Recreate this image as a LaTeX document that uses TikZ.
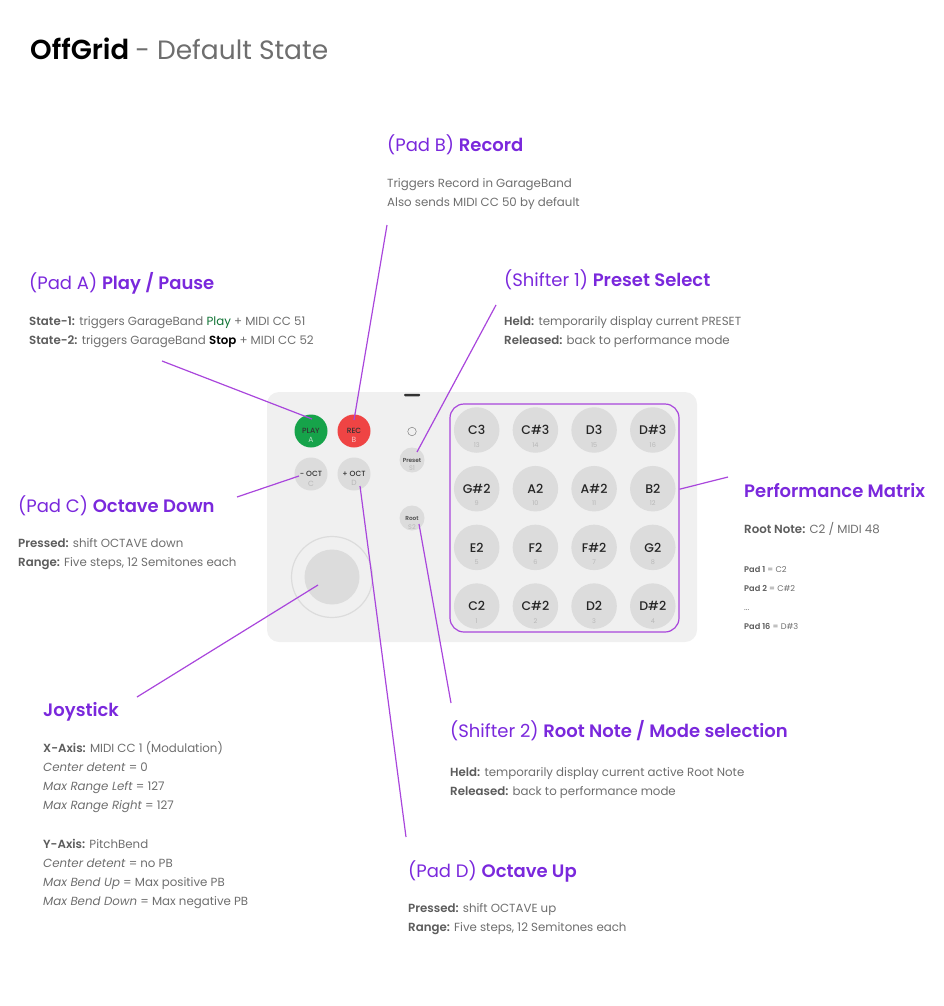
\documentclass[tikz,border=0pt]{standalone}
\usepackage{fontspec}
\setmainfont{Poppins}[BoldFont={Poppins SemiBold},BoldItalicFont={Poppins SemiBold Italic}]
\newfontfamily\medfont{Poppins Medium}
\usetikzlibrary{positioning}
\definecolor{headcol}{HTML}{7A28DC}
\definecolor{wirecol}{HTML}{A946DC}
\definecolor{bodycol}{HTML}{6E6E6E}
\definecolor{boldcol}{HTML}{5C5C5C}
\definecolor{shellcol}{HTML}{F0F0F0}
\definecolor{padcol}{HTML}{DCDCDC}
\definecolor{numcol}{HTML}{B8B8B8}
\definecolor{playcol}{HTML}{16A34A}
\definecolor{reccol}{HTML}{EF4444}
\newcommand{\bb}[1]{\textbf{\textcolor{boldcol}{#1}}}
\begin{document}
\begin{tikzpicture}[
  x=1pt, y=-1pt,
  head/.style={anchor=base west, inner sep=0pt, text=headcol, font=\fontsize{18}{20}\selectfont},
  bodytext/.style={anchor=base west, inner sep=0pt, text=bodycol, align=left, font=\fontsize{11.8}{19}\selectfont},
  smalltext/.style={anchor=base west, inner sep=0pt, text=bodycol, font=\fontsize{8.2}{10}\selectfont},
  notepad/.style={circle, fill=padcol, minimum size=45.5pt, inner sep=0pt, text=black!85,
    font=\medfont\fontsize{12.5}{14}\selectfont, node distance=58.7pt,
    label={[numcol, font=\fontsize{6.5}{7}\selectfont, label distance=-14pt]-90:#1}},
  smallpad/.style={circle, fill=padcol, minimum size=33pt, inner sep=0pt, text=black!80,
    font=\medfont\fontsize{7.5}{8}\selectfont,
    label={[numcol, font=\fontsize{7.5}{8}\selectfont, label distance=-13.5pt]-90:#1}},
  shifter/.style={circle, fill=padcol, minimum size=25pt, inner sep=0pt, text=black!70,
    font=\bfseries\fontsize{5.8}{6}\selectfont,
    label={[numcol, font=\fontsize{6.5}{7}\selectfont, label distance=-10pt]-90:#1}},
  wire/.style={draw=wirecol, line width=1.2pt}
]
\useasboundingbox (0,0) rectangle (943,1006);

% Title
\node[anchor=base west, inner sep=0pt, font=\fontsize{26.5}{28}\selectfont] (title) at (30,60)
  {\textbf{\fontsize{27.5}{28}\selectfont OffGrid}\hspace{-1pt} \textcolor{bodycol}{- Default State}};

% Device body
\node[draw=none, fill=shellcol, rounded corners=12pt, minimum width=430pt, minimum height=250pt, inner sep=0pt] (shell) at (482,517) {};
\node[fill=black!80, rounded corners=1pt, minimum width=16pt, minimum height=2.5pt, inner sep=0pt] (usb) at (412,395) {};

% Function pads
\node[smallpad={\textcolor{white!70!playcol}{A}}, fill=playcol] (play) at (311,431) {PLAY};
\node[smallpad={\textcolor{white!70!reccol}{B}}, fill=reccol] (rec) at (354,431) {REC};
\node[smallpad=C] (octdown) at (311,474) {- OCT};
\node[smallpad=D] (octup) at (354,474) {+ OCT};

% Shifters and LED
\node[circle, draw=black!50, line width=0.5pt, minimum size=8.5pt, inner sep=0pt] (led) at (412,431.5) {};
\node[shifter=S1] (preset) at (412,460) {Preset};
\node[shifter=S2] (root) at (412,518) {Root};

% Joystick
\node[circle, draw=padcol, line width=1.2pt, minimum size=81pt, inner sep=0pt] (joyring) at (332,577) {};
\node[circle, fill=padcol, minimum size=55pt, inner sep=0pt] (joystick) at (332,577) {};

% Note pads
\node[notepad=13] (c3) at (476.7,430) {C3};
\node[notepad=14, right of=c3] (cs3) {C\#3};
\node[notepad=15, right of=cs3] (d3) {D3};
\node[notepad=16, right of=d3] (ds3) {D\#3};
\node[notepad=9, below of=c3] (gs2) {G\#2};
\node[notepad=10, right of=gs2] (a2) {A2};
\node[notepad=11, right of=a2] (as2) {A\#2};
\node[notepad=12, right of=as2] (b2) {B2};
\node[notepad=5, below of=gs2] (e2) {E2};
\node[notepad=6, right of=e2] (f2) {F2};
\node[notepad=7, right of=f2] (fs2) {F\#2};
\node[notepad=8, right of=fs2] (g2) {G2};
\node[notepad=1, below of=e2] (c2) {C2};
\node[notepad=2, right of=c2] (cs2) {C\#2};
\node[notepad=3, right of=cs2] (d2) {D2};
\node[notepad=4, right of=d2] (ds2) {D\#2};

% Matrix outline
\node[draw=wirecol, line width=1.2pt, rounded corners=14pt, minimum width=229pt, minimum height=228pt, inner sep=0pt] (matrix) at (564.5,518) {};

% Pad B text
\node[head] (recordhead) at (387,151) {(Pad B) \textbf{Record}};
\node[bodytext] (recordtext1) at (387,187) {Triggers Record in GarageBand};
\node[bodytext] (recordtext2) at (387,206) {Also sends MIDI CC 50 by default};

% Pad A text
\node[head] (playhead) at (29,289) {(Pad A) \textbf{Play / Pause}};
\node[bodytext] (playtext1) at (29,325) {\bb{State-1:} triggers GarageBand \textcolor{playcol!70!black}{Play} + MIDI CC 51};
\node[bodytext] (playtext2) at (29,344) {\bb{State-2:} triggers GarageBand \textbf{\textcolor{black}{Stop}} + MIDI CC 52};

% Shifter 1 text
\node[head] (presethead) at (504,286) {(Shifter 1) \textbf{Preset Select}};
\node[bodytext] (presettext1) at (504,325) {\bb{Held:} temporarily display current PRESET};
\node[bodytext] (presettext2) at (504,344) {\bb{Released:} back to performance mode};

% Pad C text
\node[head] (downhead) at (18,512) {(Pad C) \textbf{Octave Down}};
\node[bodytext] (downtext1) at (18,547) {\bb{Pressed:} shift OCTAVE down};
\node[bodytext] (downtext2) at (18,566) {\bb{Range:} Five steps, 12 Semitones each};

% Matrix text
\node[head] (matrixhead) at (744,497) {\textbf{Performance Matrix}};
\node[bodytext] (matrixtext) at (744,533) {\bb{Root Note:} C2 / MIDI 48};
\node[smalltext] (matrixpad1) at (744,572) {\bb{Pad 1} = C2};
\node[smalltext] (matrixpad2) at (744,591) {\bb{Pad 2} = C\#2};
\node[smalltext] (matrixdots) at (744,610) {...};
\node[smalltext] (matrixpad3) at (744,629) {\bb{Pad 16} = D\#3};

% Joystick text
\node[head] (joyhead) at (43,716) {\textbf{Joystick}};
\node[bodytext] (joytext1) at (43,752) {\bb{X-Axis:} MIDI CC 1 (Modulation)};
\node[bodytext] (joytext2) at (43,771) {\textit{Center detent} = 0};
\node[bodytext] (joytext3) at (43,790) {\textit{Max Range Left} = 127};
\node[bodytext] (joytext4) at (43,809) {\textit{Max Range Right} = 127};
\node[bodytext] (joytext5) at (43,848) {\bb{Y-Axis:} PitchBend};
\node[bodytext] (joytext6) at (43,867) {\textit{Center detent} = no PB};
\node[bodytext] (joytext7) at (43,886) {\textit{Max Bend Up} = Max positive PB};
\node[bodytext] (joytext8) at (43,905) {\textit{Max Bend Down} = Max negative PB};

% Shifter 2 text
\node[head] (roothead) at (450,737) {(Shifter 2) \textbf{Root Note / Mode selection}};
\node[bodytext] (roottext1) at (450,776) {\bb{Held:} temporarily display current active Root Note};
\node[bodytext] (roottext2) at (450,795) {\bb{Released:} back to performance mode};

% Pad D text
\node[head] (uphead) at (408,877) {(Pad D) \textbf{Octave Up}};
\node[bodytext] (uptext1) at (408,912) {\bb{Pressed:} shift OCTAVE up};
\node[bodytext] (uptext2) at (408,931) {\bb{Range:} Five steps, 12 Semitones each};

% Free ends of the callouts
\coordinate (recordend) at (387,225);
\coordinate (playend) at (162,361);
\coordinate (presetend) at (496,305);
\coordinate (downend) at (237,497);
\coordinate (matrixend) at (728,477);
\coordinate (joyend) at (137,697);
\coordinate (rootend) at (451,703);
\coordinate (upend) at (406,837);

% Callouts
\draw[wire] (recordend) -- ([yshift=11pt]rec.center);
\draw[wire] (playend) -- ([xshift=1pt,yshift=12pt]play.center);
\draw[wire] (presetend) -- ([xshift=5pt,yshift=8pt]preset.center);
\draw[wire] (downend) -- ([xshift=-12pt,yshift=-2pt]octdown.center);
\draw[wire] (matrixend) -- (matrix);
\draw[wire] (joyend) -- ([xshift=-14pt,yshift=-8pt]joystick.center);
\draw[wire] (rootend) -- ([xshift=7pt,yshift=-6pt]root.center);
\draw[wire] (upend) -- ([xshift=6pt,yshift=-12pt]octup.center);
\end{tikzpicture}
\end{document}
